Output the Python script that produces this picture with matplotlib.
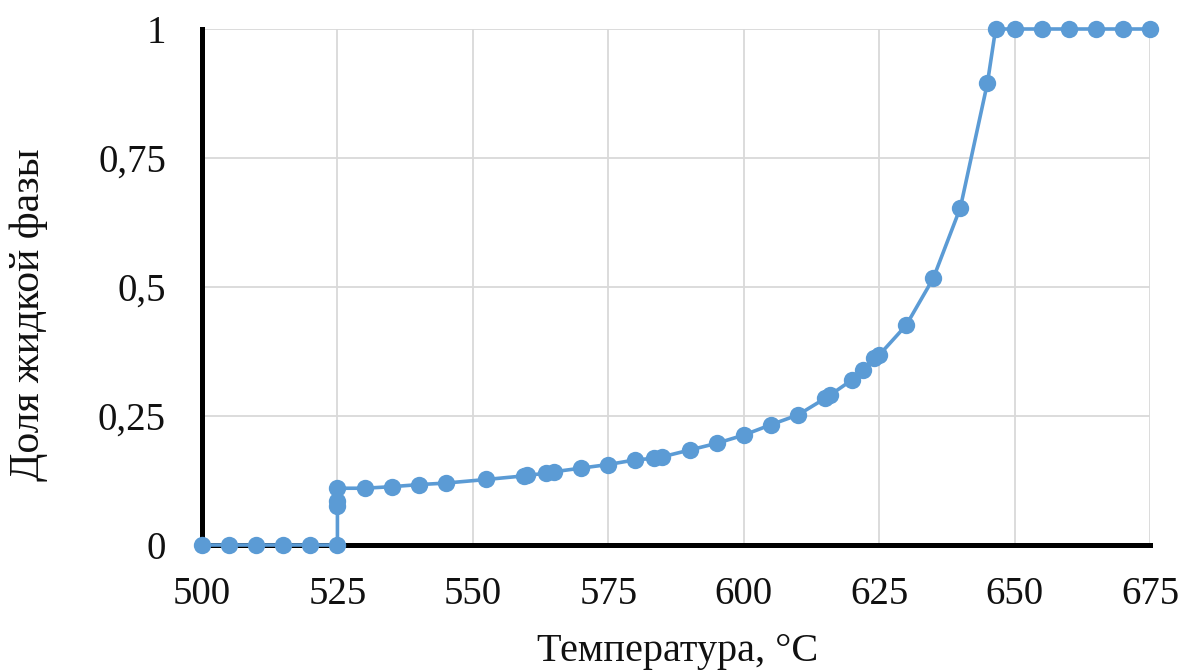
import matplotlib
matplotlib.use("Agg")
import matplotlib.pyplot as plt

# Liquid fraction vs temperature
temperature = [500, 505, 510, 515, 520, 525, 525, 525, 525, 530, 535, 540, 545,
               552.5, 559.5, 560, 563.5, 565, 570, 575, 580, 583.5, 585, 590, 595,
               600, 605, 610, 615, 616, 620, 622, 624, 625, 630, 635, 640, 645,
               646.5, 650, 655, 660, 665, 670, 675]
liquid_fraction = [0, 0, 0, 0, 0, 0, 0.075, 0.085, 0.11, 0.11, 0.113, 0.117, 0.12,
                   0.127, 0.134, 0.135, 0.139, 0.142, 0.149, 0.156, 0.165, 0.168,
                   0.171, 0.184, 0.197, 0.213, 0.233, 0.252, 0.284, 0.291, 0.32,
                   0.339, 0.362, 0.368, 0.426, 0.517, 0.654, 0.896, 1, 1, 1, 1, 1,
                   1, 1]

x_ticks = [500, 525, 550, 575, 600, 625, 650, 675]
y_ticks = [0, 0.25, 0.5, 0.75, 1]
y_tick_labels = ["0", "0,25", "0,5", "0,75", "1"]

x_label = "Температура, °С"
y_label = "Доля жидкой фазы"

plt.rcParams["font.family"] = ["Liberation Serif", "DejaVu Serif"]

W, H = 1182, 670
fig = plt.figure(figsize=(W / 100, H / 100), dpi=100)
ax = fig.add_axes([202 / W, 1 - 545 / H, (1150 - 202) / W, (545 - 29) / H])

blue = "#5B9BD5"
ax.plot(temperature, liquid_fraction, color=blue, linewidth=2.6,
        marker="o", markersize=12.5, markeredgewidth=0, clip_on=False, zorder=5)

ax.set_xlim(500, 675)
ax.set_ylim(0, 1)
ax.set_xticks(x_ticks)
ax.set_yticks(y_ticks)
ax.set_yticklabels(y_tick_labels)

ax.grid(True, color="#d9d9d9", linewidth=1.3)
ax.set_axisbelow(True)

for side in ("top", "right"):
    ax.spines[side].set_visible(False)
for side in ("left", "bottom"):
    ax.spines[side].set_color("black")
    ax.spines[side].set_linewidth(3.6)
    ax.spines[side].set_zorder(3)

ax.tick_params(axis="both", length=0, labelsize=28, colors="#111111")
ax.tick_params(axis="x", pad=22)
ax.tick_params(axis="y", pad=26)

fig.text(678 / W, 1 - 652 / H, x_label, ha="center", va="center",
         fontsize=29, color="#111111")
fig.text(29 / W, 1 - 315 / H, y_label, ha="center", va="center",
         rotation=90, fontsize=30, color="#111111")

fig.savefig("out.png", dpi=100, facecolor="white")
